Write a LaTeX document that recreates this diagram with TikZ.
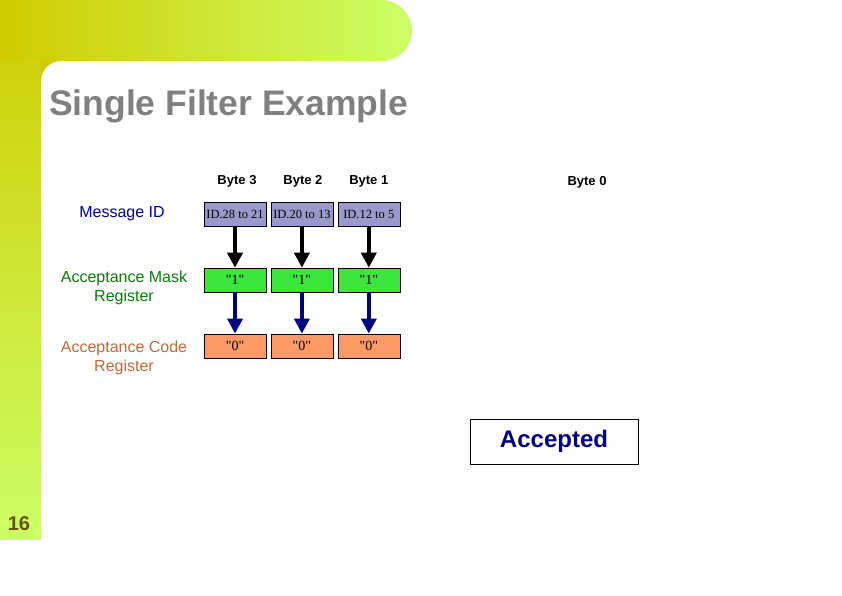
\documentclass[tikz,border=0pt]{standalone}
\usepackage{fontspec}
\setmainfont{Liberation Sans}
\newfontfamily\boxfont{Liberation Serif}
\usetikzlibrary{arrows.meta,positioning}
\definecolor{barstart}{HTML}{D0CC00}
\definecolor{barend}{HTML}{CCFF66}
\definecolor{idpurple}{HTML}{9999CC}
\definecolor{maskgreen}{HTML}{3CE63C}
\definecolor{codeorange}{HTML}{FF9966}
\definecolor{msgblue}{HTML}{000099}
\definecolor{masktext}{HTML}{0A7A0A}
\definecolor{codetext}{HTML}{C06A3A}
\definecolor{navy}{HTML}{000080}
\definecolor{pagenum}{HTML}{665500}

\begin{document}
\begin{tikzpicture}[x=1pt, y=1pt,
  node distance=41.5pt and 4.5pt,
  cell/.style={draw, minimum width=62pt, minimum height=24pt, inner sep=1pt,
               font=\boxfont\fontsize{12.5}{14}\selectfont},
  bit/.style={cell, font=\boxfont\fontsize{14}{16}\selectfont},
  hdr/.style={inner sep=0pt, font=\bfseries\fontsize{13}{15}\selectfont},
  lbl/.style={align=center, font=\fontsize{16}{19}\selectfont},
  arr/.style={-{Triangle[length=15pt, width=15pt]}, line width=4pt}
]
\useasboundingbox (0,0) rectangle (842,596);

% background bars
\shade[top color=barstart, bottom color=barend] (0,56) rectangle (41,596);
\shade[left color=barstart, right color=barend]
  (0,535) -- (381.5,535) arc[start angle=-90, end angle=90, radius=30.5] -- (0,596) -- cycle;
\fill[barstart] (41,535) -- (61,535) arc[start angle=90, end angle=180, radius=20] -- cycle;

\node[anchor=base west, inner sep=0pt, text=gray, font=\bfseries\fontsize{35.5}{40}\selectfont] (title) at (49,480) {Single Filter Example};
\node[anchor=base, text=pagenum, font=\bfseries\fontsize{20}{22}\selectfont] (page) at (19,65) {16};

% message id row
\node[cell, fill=idpurple] (id3) at (235,382) {ID.28 to 21};
\node[cell, fill=idpurple, right=of id3] (id2) {ID.20 to 13};
\node[cell, fill=idpurple, right=of id2] (id1) {ID.12 to 5};

% mask row
\node[bit, fill=maskgreen, below=of id3] (mask3) {"1"};
\node[bit, fill=maskgreen, below=of id2] (mask2) {"1"};
\node[bit, fill=maskgreen, below=of id1] (mask1) {"1"};

% code row
\node[bit, fill=codeorange, below=of mask3] (code3) {"0"};
\node[bit, fill=codeorange, below=of mask2] (code2) {"0"};
\node[bit, fill=codeorange, below=of mask1] (code1) {"0"};

% byte headers
\node[hdr, above=14pt of id3, xshift=2pt] (byte3) {Byte 3};
\node[hdr, above=14pt of id2, xshift=1pt] (byte2) {Byte 2};
\node[hdr, above=14pt of id1] (byte1) {Byte 1};
\node[hdr] (byte0) at (587,414) {Byte 0};

% row labels
\node[lbl, text=msgblue] (msg) at (122,382) {Message ID};
\node[lbl, text=masktext] (masklbl) at (124,308) {Acceptance Mask\\Register};
\node[lbl, text=codetext] (codelbl) at (124,238) {Acceptance Code\\Register};

\foreach \i in {1,2,3} {
  \draw[arr] (id\i) -- (mask\i);
  \draw[arr, navy] (mask\i) -- (code\i);
}

\node[draw, fill=white, minimum width=168pt, minimum height=45pt,
      text=navy, font=\bfseries\fontsize{24}{26}\selectfont] (acc) at (554,154.5) {Accepted};

\end{tikzpicture}
\end{document}
